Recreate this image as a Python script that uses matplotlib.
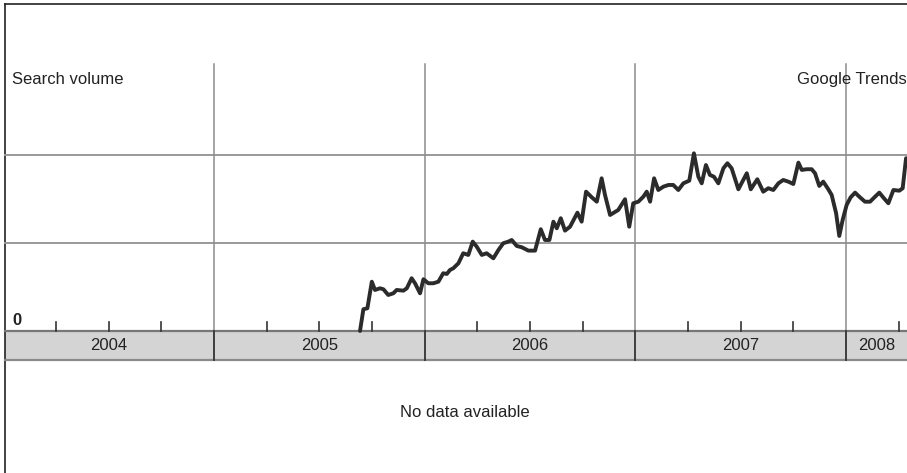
import matplotlib.pyplot as plt

plt.rcParams["font.family"] = ["Liberation Sans", "DejaVu Sans"]
plt.rcParams["font.size"] = 12

# search volume, dates as decimal years
dates = [2005.693, 2005.709, 2005.728, 2005.749, 2005.764, 2005.788, 2005.804, 2005.827,
         2005.851, 2005.867, 2005.899, 2005.915, 2005.938, 2005.954, 2005.978, 2005.994,
         2006.017, 2006.041, 2006.065, 2006.088, 2006.105, 2006.120, 2006.136, 2006.160,
         2006.183, 2006.207, 2006.228, 2006.247, 2006.271, 2006.294, 2006.326, 2006.350,
         2006.373, 2006.397, 2006.413, 2006.437, 2006.461, 2006.492, 2006.524, 2006.551,
         2006.571, 2006.592, 2006.611, 2006.627, 2006.646, 2006.666, 2006.690, 2006.725,
         2006.745, 2006.766, 2006.793, 2006.817, 2006.840, 2006.856, 2006.880, 2006.919,
         2006.951, 2006.971, 2006.990,
         2007.014, 2007.038, 2007.054, 2007.070, 2007.089, 2007.109, 2007.133, 2007.157,
         2007.180, 2007.204, 2007.228, 2007.256, 2007.278, 2007.299, 2007.315, 2007.335,
         2007.354, 2007.373, 2007.394, 2007.418, 2007.437, 2007.457, 2007.489, 2007.529,
         2007.548, 2007.579, 2007.607, 2007.631, 2007.655, 2007.679, 2007.702, 2007.726,
         2007.750, 2007.774, 2007.790, 2007.813, 2007.837, 2007.853, 2007.873, 2007.892,
         2007.916, 2007.932, 2007.953, 2007.968, 2007.984,
         2008.003, 2008.022, 2008.043, 2008.063, 2008.090, 2008.114, 2008.138, 2008.158,
         2008.180, 2008.201, 2008.225, 2008.253, 2008.269, 2008.285]
volume = [0.000, 0.247, 0.258, 0.560, 0.466, 0.485, 0.474, 0.409,
          0.428, 0.466, 0.458, 0.485, 0.599, 0.542, 0.428, 0.588,
          0.542, 0.542, 0.560, 0.656, 0.648, 0.693, 0.713, 0.769,
          0.883, 0.864, 1.015, 0.958, 0.864, 0.883, 0.826, 0.920,
          0.997, 1.015, 1.034, 0.966, 0.951, 0.913, 0.913, 1.156,
          1.034, 1.034, 1.242, 1.167, 1.281, 1.140, 1.185, 1.344,
          1.242, 1.583, 1.519, 1.469, 1.735, 1.545, 1.318, 1.375,
          1.497, 1.185, 1.451,
          1.469, 1.526, 1.583, 1.469, 1.735, 1.602, 1.640, 1.659,
          1.659, 1.602, 1.678, 1.708, 2.019, 1.753, 1.678, 1.886,
          1.773, 1.753, 1.678, 1.849, 1.906, 1.849, 1.610, 1.792,
          1.610, 1.724, 1.583, 1.622, 1.602, 1.678, 1.716, 1.697,
          1.670, 1.913, 1.830, 1.838, 1.838, 1.792, 1.648, 1.697,
          1.610, 1.545, 1.338, 1.080, 1.261,
          1.432, 1.519, 1.572, 1.526, 1.469, 1.469, 1.526, 1.572,
          1.508, 1.451, 1.602, 1.594, 1.622, 1.963]

years = [2004, 2005, 2006, 2007, 2008]
year_labels = ["2004", "2005", "2006", "2007", "2008"]
quarters = [2004.25, 2004.5, 2004.75, 2005.25, 2005.5, 2005.75, 2006.25, 2006.5,
            2006.75, 2007.25, 2007.5, 2007.75, 2008.25]
gridlines = [1, 2]

xmin, xmax = 2003.984, 2008.2895
ymin, ymax = -1.614, 3.761
band = -0.33

fig = plt.figure(figsize=(9.07, 4.73), dpi=100)
ax = fig.add_axes([0, 0, 1, 1])
ax.set_xlim(xmin, xmax)
ax.set_ylim(ymin, ymax)
ax.axis("off")

# frame (left + top)
ax.plot([2004.008, 2004.008], [ymin, 3.716], color="#222222", lw=1.2)
ax.plot([2004.008, xmax], [3.716, 3.716], color="#222222", lw=1.2)

# year band
ax.fill_between([2004.008, xmax], band, 0, color="#d4d4d4", lw=0)
ax.plot([2004.008, xmax], [0, 0], color="#777777", lw=1.6)
ax.plot([2004.008, xmax], [band, band], color="#8a8a8a", lw=1.6)

# horizontal grid
for g in gridlines:
    ax.plot([2004.008, xmax], [g, g], color="#999999", lw=1.4)

# year dividers
for yr in years[1:]:
    ax.plot([yr, yr], [0, 3.03], color="#8c8c8c", lw=1.1)
    ax.plot([yr, yr], [band, 0], color="#333333", lw=1.3)

# quarter ticks
for q in quarters:
    ax.plot([q, q], [0, 0.1], color="#333333", lw=1.2)

for i, lab in enumerate(year_labels):
    left = years[i]
    right = min(left + 1, xmax)
    ax.text((left + right) / 2, band / 2, lab, ha="center", va="center",
            color="#222222", fontsize=12)

ax.plot(dates, volume, color="#2b2b2b", lw=2.8, solid_joinstyle="round",
        solid_capstyle="round")

ax.text(2004.04, 2.852, "Search volume", ha="left", va="center", color="#222222")
ax.text(xmax - 0.003, 2.852, "Google Trends", ha="right", va="center", color="#222222")
ax.text(2004.045, 0.114, "0", ha="left", va="center", color="#222222",
        fontweight="bold")
ax.text(2006.19, -0.925, "No data available", ha="center", va="center", color="#222222")

fig.savefig("out.png", dpi=100)
